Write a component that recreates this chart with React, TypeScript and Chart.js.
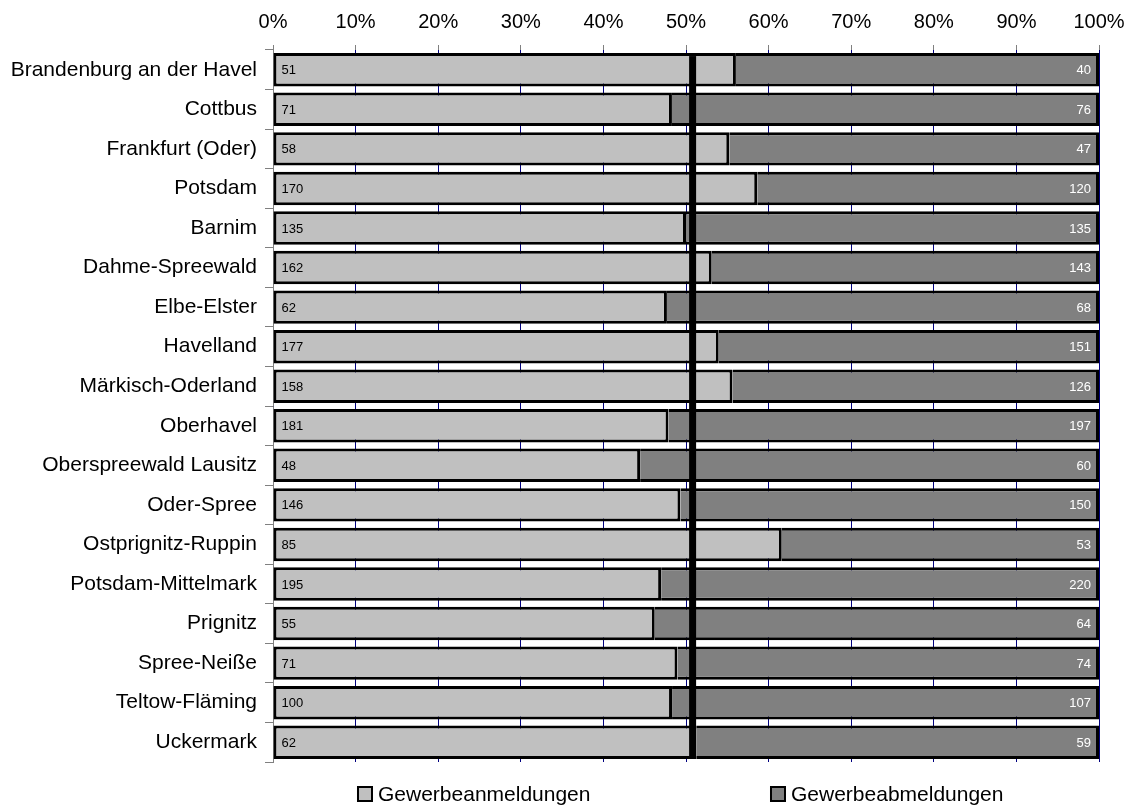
import React, { useEffect, useRef } from "react";
import { Chart, registerables } from "chart.js";

Chart.register(...registerables);

const categories = [
  "Brandenburg an der Havel",
  "Cottbus",
  "Frankfurt (Oder)",
  "Potsdam",
  "Barnim",
  "Dahme-Spreewald",
  "Elbe-Elster",
  "Havelland",
  "Märkisch-Oderland",
  "Oberhavel",
  "Oberspreewald Lausitz",
  "Oder-Spree",
  "Ostprignitz-Ruppin",
  "Potsdam-Mittelmark",
  "Prignitz",
  "Spree-Neiße",
  "Teltow-Fläming",
  "Uckermark",
];

const anmeldungen = [51, 71, 58, 170, 135, 162, 62, 177, 158, 181, 48, 146, 85, 195, 55, 71, 100, 62];
const abmeldungen = [40, 76, 47, 120, 135, 143, 68, 151, 126, 197, 60, 150, 53, 220, 64, 74, 107, 59];

const seriesNames = ["Gewerbeanmeldungen", "Gewerbeabmeldungen"];
const seriesColors = ["#C0C0C0", "#808080"];
const referenceLinePct = 50.8;
const xTicks = [0, 10, 20, 30, 40, 50, 60, 70, 80, 90, 100];

const FONT = "'Liberation Sans', Arial, sans-serif";

export default function App() {
  const ref = useRef<HTMLCanvasElement | null>(null);

  useEffect(() => {
    document.body.style.margin = "0";
    const canvas = ref.current;
    if (!canvas) return;

    const pctAn = anmeldungen.map((v, i) => (v / (v + abmeldungen[i])) * 100);
    const pctAb = abmeldungen.map((v, i) => (v / (v + anmeldungen[i])) * 100);
    const raw = [anmeldungen, abmeldungen];

    const overlay = {
      id: "overlay",
      afterDatasetsDraw(chart: any) {
        const ctx = chart.ctx;
        const area = chart.chartArea;
        ctx.save();
        ctx.font = `13px ${FONT}`;
        ctx.textBaseline = "middle";
        const m0 = chart.getDatasetMeta(0);
        const m1 = chart.getDatasetMeta(1);
        m0.data.forEach((el: any, i: number) => {
          ctx.fillStyle = "#000";
          ctx.textAlign = "left";
          ctx.fillText(String(raw[0][i]), el.base + 8, el.y + 1);
        });
        m1.data.forEach((el: any, i: number) => {
          ctx.fillStyle = "#fff";
          ctx.textAlign = "right";
          ctx.fillText(String(raw[1][i]), el.x - 8, el.y + 1);
        });
        const xs = chart.scales.x;
        const lx = xs.getPixelForValue(referenceLinePct);
        const first = m0.data[0];
        const last = m0.data[m0.data.length - 1];
        const top = first.y - first.height / 2 + 3;
        const bottom = last.y + last.height / 2;
        ctx.fillStyle = "#000";
        ctx.fillRect(lx - 3.5, top, 7, bottom - top);

        const legendY = 794;
        const positions = [0.1029, 0.6029];
        ctx.font = `21px ${FONT}`;
        ctx.textAlign = "left";
        ctx.textBaseline = "middle";
        positions.forEach((p, k) => {
          const sx = area.left + p * (area.right - area.left);
          ctx.fillStyle = seriesColors[k];
          ctx.fillRect(sx, legendY - 7, 14, 14);
          ctx.strokeStyle = "#000";
          ctx.lineWidth = 2;
          ctx.strokeRect(sx, legendY - 7, 14, 14);
          ctx.fillStyle = "#000";
          ctx.fillText(seriesNames[k], sx + 20, legendY + 1);
        });
        ctx.restore();
      },
    };

    const chart = new Chart(canvas, {
      type: "bar",
      data: {
        labels: categories,
        datasets: [
          {
            label: seriesNames[0],
            data: pctAn,
            backgroundColor: seriesColors[0],
            borderColor: "#000",
            borderWidth: 3,
            borderSkipped: false,
          },
          {
            label: seriesNames[1],
            data: pctAb,
            backgroundColor: seriesColors[1],
            borderColor: "#000",
            borderWidth: 3,
            borderSkipped: "left",
          },
        ],
      },
      options: {
        indexAxis: "y",
        responsive: false,
        animation: false,
        devicePixelRatio: 1,
        layout: { autoPadding: false, padding: { left: 0, right: 30, top: 0, bottom: 43 } },
        datasets: {
          bar: { barPercentage: 0.845, categoryPercentage: 1 },
        },
        plugins: {
          legend: { display: false },
          tooltip: { enabled: false },
        },
        scales: {
          x: {
            type: "linear",
            position: "top",
            stacked: true,
            min: 0,
            max: 100,
            afterBuildTicks: (s: any) => {
              s.ticks = xTicks.map((v) => ({ value: v }));
            },
            afterFit: (s: any) => {
              s.height = 50;
              s.paddingLeft = 0;
              s.paddingRight = 0;
            },
            ticks: {
              callback: (v: any) => `${v}%`,
              color: "#000",
              font: { family: FONT, size: 20 },
              padding: 11,
              maxRotation: 0,
              autoSkip: false,
            },
            grid: {
              color: "#000080",
              lineWidth: 1,
              tickColor: "#808080",
              tickLength: 5,
            },
            border: { display: false },
          },
          y: {
            type: "category",
            stacked: true,
            afterFit: (s: any) => {
              s.width = 273;
              s.paddingTop = 0;
              s.paddingBottom = 0;
            },
            ticks: {
              color: "#000",
              font: { family: FONT, size: 21 },
              padding: 8,
              autoSkip: false,
            },
            grid: {
              drawOnChartArea: false,
              drawTicks: true,
              tickLength: 8,
              tickColor: "#808080",
              offset: true,
            },
            border: { display: true, color: "#808080", width: 1 },
          },
        },
      },
      plugins: [overlay],
    } as any);

    return () => chart.destroy();
  }, []);

  return (
    <div style={{ width: 1129, height: 805 }}>
      <canvas ref={ref} width={1129} height={805} style={{ display: "block" }} />
    </div>
  );
}
